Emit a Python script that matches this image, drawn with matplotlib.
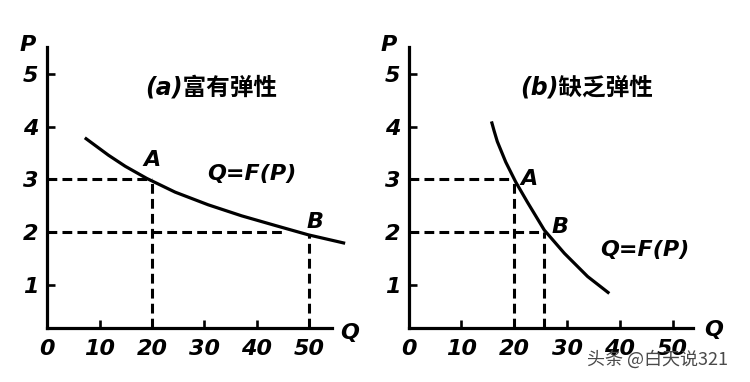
import matplotlib
matplotlib.use("Agg")
import matplotlib.pyplot as plt

# ---- data ----
q_ticks = [0, 10, 20, 30, 40, 50]
p_ticks = [1, 2, 3, 4, 5]

# (a) elastic demand curve
q_a = [7.2, 11.7, 14.9, 19.0, 24.4, 30.7, 37.1, 43.4, 49.8, 56.8]
p_a = [3.79, 3.46, 3.25, 3.02, 2.76, 2.52, 2.31, 2.13, 1.95, 1.79]
pointA_a = (20, 3)
pointB_a = (50, 2)
hline2_end_a = 45.0
vline_b_top_a = 1.94

# (b) inelastic demand curve
q_b = [15.7, 16.2, 16.8, 18.4, 20.3, 22.5, 25.7, 29.5, 33.9, 38.0]
p_b = [4.10, 3.92, 3.72, 3.33, 2.95, 2.57, 2.04, 1.60, 1.16, 0.84]
pointA_b = (20, 3)
pointB_b = (25.7, 2)

titles = ["(a)富有弹性", "(b)缺乏弹性"]
curve_label = "Q=F(P)"
watermark = "头条 @白天说321"

fig = plt.figure(figsize=(7.5, 3.82), dpi=100)
fam = ['DejaVu Sans', 'Noto Sans CJK SC']
lw = 2.3
fs = 16

def setup(ax, xmax):
    ax.set_xlim(0, xmax)
    ax.set_ylim(0.185, 5.51)
    for s in ['top', 'right']:
        ax.spines[s].set_visible(False)
    for s in ['left', 'bottom']:
        ax.spines[s].set_linewidth(lw)
        ax.spines[s].set_color('black')
    ax.set_xticks(q_ticks)
    ax.set_yticks(p_ticks)
    ax.tick_params(direction='in', length=6, width=1.9, labelsize=fs, pad=6)
    ax.tick_params(axis='x', pad=8)
    for lab in ax.get_xticklabels() + ax.get_yticklabels():
        lab.set_fontfamily(fam)
        lab.set_fontweight('bold')
        lab.set_fontstyle('italic')
    ax.xaxis.get_major_ticks()[0].tick1line.set_visible(False)
    ax.patch.set_visible(False)

txtkw = dict(family=fam, fontweight='bold', fontstyle='italic', color='black')
dkw = dict(color='black', lw=2.2, ls=(0, (3.2, 1.7)), clip_on=False)
ckw = dict(color='black', lw=lw, clip_on=False, solid_capstyle='butt', solid_joinstyle='round')

# ---- panel a ----
ax1 = fig.add_axes([0.0627, 0.1414, 0.38, 0.7355])
setup(ax1, 54.3)
ax1.plot(q_a, p_a, **ckw)
ax1.plot([0, pointA_a[0]], [pointA_a[1]] * 2, **dkw)
ax1.plot([pointA_a[0]] * 2, [0.185, pointA_a[1]], **dkw)
ax1.plot([0, hline2_end_a], [pointB_a[1]] * 2, **dkw)
ax1.plot([pointB_a[0]] * 2, [0.185, vline_b_top_a], **dkw)
ax1.text(20, 3.36, "A", ha='center', va='center', fontsize=fs, **txtkw)
ax1.text(51, 2.2, "B", ha='center', va='center', fontsize=fs, **txtkw)
ax1.text(39, 3.1, curve_label, ha='center', va='center', fontsize=fs, **txtkw)
ax1.text(31.3, 4.74, titles[0], ha='center', va='center', fontsize=17, **txtkw)
ax1.text(-3.6, 5.55, "P", ha='center', va='center', fontsize=fs, clip_on=False, **txtkw)
ax1.text(57.7, 0.09, "Q", ha='center', va='center', fontsize=fs, clip_on=False, **txtkw)

# ---- panel b ----
ax2 = fig.add_axes([0.5447, 0.1414, 0.379, 0.7355])
setup(ax2, 53.8)
ax2.plot(q_b, p_b, **ckw)
ax2.plot([0, pointA_b[0]], [pointA_b[1]] * 2, **dkw)
ax2.plot([pointA_b[0]] * 2, [0.185, pointA_b[1]], **dkw)
ax2.plot([0, pointB_b[0]], [pointB_b[1]] * 2, **dkw)
ax2.plot([pointB_b[0]] * 2, [0.185, pointB_b[1]], **dkw)
ax2.text(22.8, 3.0, "A", ha='center', va='center', fontsize=fs, **txtkw)
ax2.text(28.6, 2.09, "B", ha='center', va='center', fontsize=fs, **txtkw)
ax2.text(44.8, 1.67, curve_label, ha='center', va='center', fontsize=fs, **txtkw)
ax2.text(33.8, 4.74, titles[1], ha='center', va='center', fontsize=17, **txtkw)
ax2.text(-3.8, 5.55, "P", ha='center', va='center', fontsize=fs, clip_on=False, **txtkw)
ax2.text(57.8, 0.15, "Q", ha='center', va='center', fontsize=fs, clip_on=False, **txtkw)

fig.text(0.783, 0.058, watermark, ha='left', va='center', fontsize=13,
         color='#4a4a4a', family=['Noto Sans CJK SC', 'DejaVu Sans'])

fig.savefig("out.png", dpi=100)
